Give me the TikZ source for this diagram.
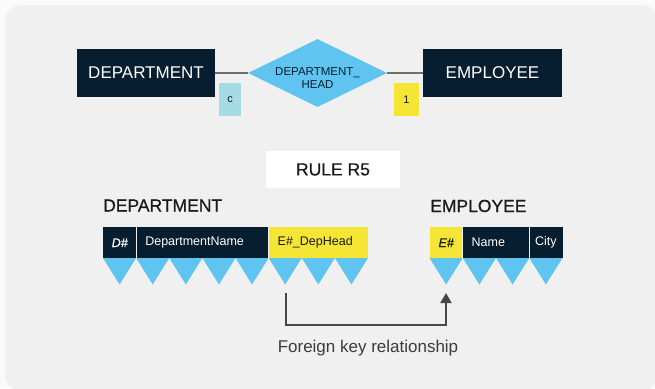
\documentclass[tikz,border=0pt]{standalone}
\usepackage{fontspec}
\setmainfont{Liberation Sans}
\newfontfamily\medfont{Liberation Sans}[FakeBold=0.6]
\usetikzlibrary{shapes.geometric,arrows.meta}

\definecolor{outerbg}{HTML}{FAFAFA}
\definecolor{panel}{HTML}{F0F0F0}
\definecolor{navy}{HTML}{061E30}
\definecolor{sky}{HTML}{5FC5F0}
\definecolor{pale}{HTML}{A7DBE4}
\definecolor{lemon}{HTML}{F5E636}
\definecolor{ink}{HTML}{1A1A1A}
\definecolor{wire}{HTML}{6E6E6E}
\definecolor{arrowgray}{HTML}{474747}

\newcommand\pxsize[1]{\fontsize{#1}{#1}\selectfont}

\begin{document}
\begin{tikzpicture}[x=1pt,y=-1pt,
  entity/.style={fill=navy, text=white, minimum width=138pt, minimum height=48pt,
                 inner sep=0pt, font=\pxsize{17}},
  relation/.style={diamond, fill=sky, minimum width=139pt, minimum height=68pt,
                   inner sep=0pt, aspect=2},
  reltext/.style={align=center, inner sep=0pt, text=navy,
                  font=\fontsize{11.5}{13}\selectfont},
  tag/.style={minimum height=33pt, inner sep=0pt, text=ink, font=\pxsize{11}},
  link/.style={draw=wire, line width=2pt},
  heading/.style={anchor=base west, inner sep=0pt, text=ink, font=\medfont\pxsize{17.5}},
  cell/.style={anchor=north west, minimum height=31pt, inner ysep=0pt,
               font=\pxsize{12.5}},
  keycell/.style={cell, inner xsep=0pt, font=\medfont\itshape\pxsize{12.5}},
  textcell/.style={cell, inner xsep=9pt, align=left},
  tooth/.style={fill=sky},
  divider/.style={draw=panel, line width=1pt},
  fk/.style={draw=arrowgray, line width=2pt, -{Triangle[length=10pt,width=11pt]}}
]
\useasboundingbox (0,0) rectangle (655,388);

% backdrop
\fill[outerbg] (0,0) rectangle (655,388);
\fill[panel, rounded corners=16pt] (5,5) rectangle (658,391);

% ER diagram
\node[entity] (dept) at (146,73) {DEPARTMENT};
\node[entity, minimum width=139pt] (emp) at (492.5,73) {EMPLOYEE};
\node[relation] (rel) at (317.5,73) {};
\node[reltext, yshift=-5.5pt] (reltxt) at (rel.center) {DEPARTMENT\_\\HEAD};
\draw[link] (dept.east) -- (rel.west);
\draw[link] (rel.east) -- (emp.west);
\node[tag, fill=pale, minimum width=22pt] (cardc) at (230,99.5) {c};
\node[tag, fill=lemon, minimum width=25pt] (cardone) at (406.5,99.5) {1};

% rule caption
\node[fill=white, minimum width=134pt, minimum height=37pt, inner sep=0pt,
      text=ink, font=\medfont\pxsize{17.5}] (rule) at (333,169.5) {RULE R5};

% relation DEPARTMENT
\node[heading] (tdept) at (103,211.5) {DEPARTMENT};
\foreach \i in {0,...,7}
  \fill[tooth] ({103+33.125*\i},258) -- ++(33.125,0) -- ++(-16.5625,26.5) -- cycle;
\node[keycell, fill=navy, text=white, minimum width=33.1pt] (dk) at (103,227) {D\#};
\node[textcell, fill=navy, text=white, text width=114.4pt] (dname) at (136.1,227) {DepartmentName};
\node[textcell, fill=lemon, text=ink, text width=81.5pt] (dhead) at (268.5,227) {E\#\_DepHead};

% relation EMPLOYEE
\node[heading] (temp) at (430,212) {EMPLOYEE};
\foreach \i in {0,...,3}
  \fill[tooth] ({429.5+33.25*\i},258) -- ++(33.25,0) -- ++(-16.625,26.5) -- cycle;
\node[keycell, fill=lemon, text=ink, minimum width=33pt] (ek) at (429.5,227) {E\#};
\node[textcell, fill=navy, text=white, text width=48.5pt] (ename) at (462.5,227) {Name};
\node[keycell, fill=navy, text=white, font=\pxsize{12.5}, minimum width=33.5pt] (ecity) at (529,227) {City};

% column dividers
\foreach \c in {dk,dname,ek,ename}
  \draw[divider] (\c.north east) -- ++(0,58);

% foreign key arrow
\coordinate (fkfrom) at (286,293);
\coordinate (fkto) at (446,293);
\draw[fk] (fkfrom) -- ++(0,32) -| (fkto);
\node[text=ink!85, inner sep=0pt, font=\pxsize{17}] (fklabel) at (368,348) {Foreign key relationship};
\end{tikzpicture}
\end{document}
